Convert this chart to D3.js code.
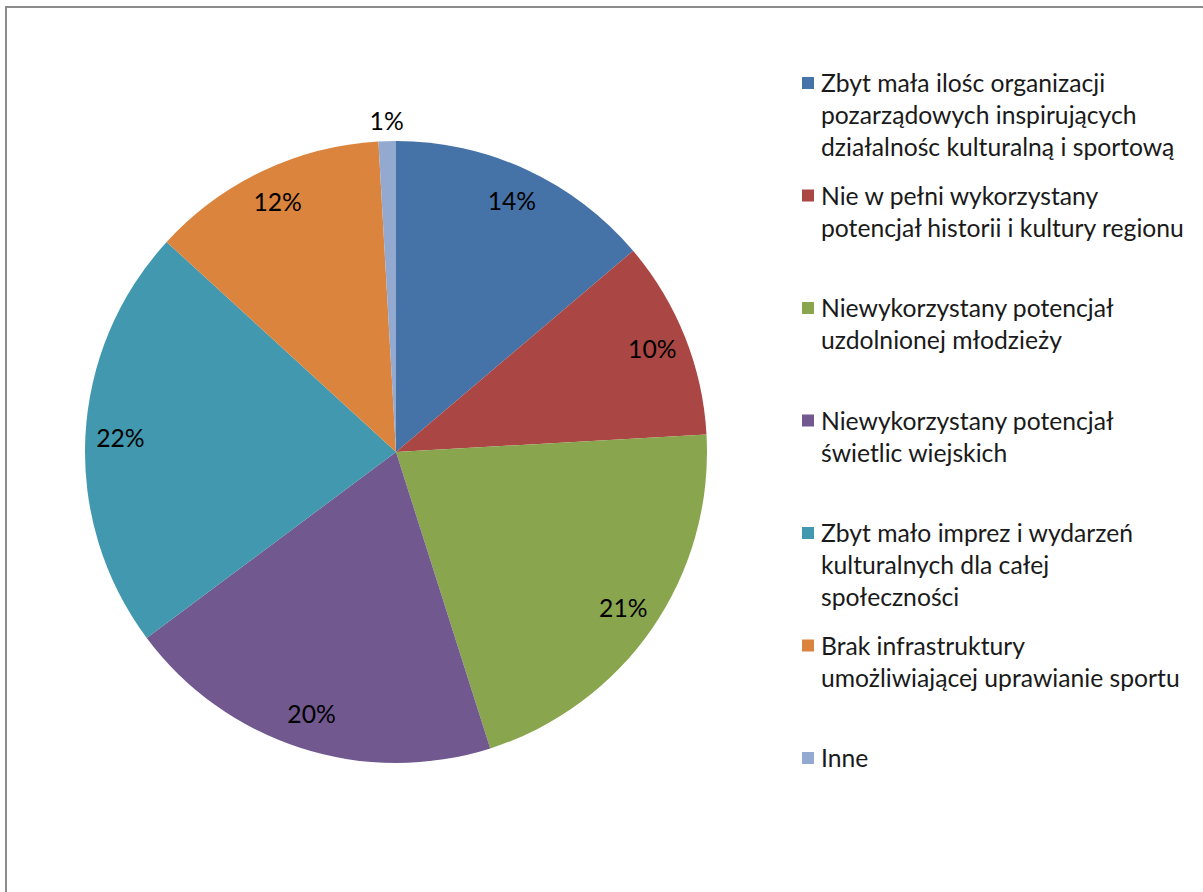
<!DOCTYPE html>
<html>
<head>
<meta charset="utf-8">
<script src="https://cdn.jsdelivr.net/npm/d3@7/dist/d3.min.js"></script>
<style>
  html, body { margin: 0; padding: 0; background: #fff; }
  svg { display: block; }
  text { font-family: Lato, "Open Sans", "Noto Sans", sans-serif; }
</style>
</head>
<body>
<svg id="chart" width="1203" height="892"></svg>
<script>
// ---- data ----
const categories = [
  "Zbyt mała ilośc organizacji\npozarządowych inspirujących\ndziałalnośc kulturalną i sportową",
  "Nie w pełni wykorzystany\npotencjał historii i kultury regionu",
  "Niewykorzystany potencjał\nuzdolnionej młodzieży",
  "Niewykorzystany potencjał\nświetlic wiejskich",
  "Zbyt mało imprez i wydarzeń\nkulturalnych dla całej\nspołeczności",
  "Brak infrastruktury\numożliwiającej uprawianie sportu",
  "Inne"
];
const values = [13.8, 10.3, 21.0, 19.7, 22.0, 12.3, 0.9];
const colors = ["#4572A7", "#AA4643", "#89A54E", "#71588F", "#4198AF", "#DB843D", "#93A9CF"];

// ---- layout ----
const W = 1203, H = 892;
const cx = 396, cy = 452, R = 311;
const labelR = 276, outsideR = 331;
const svg = d3.select("#chart");

// chart border (only top and left visible)
svg.append("rect")
  .attr("x", 6).attr("y", 7)
  .attr("width", W + 10).attr("height", H + 10)
  .attr("fill", "none").attr("stroke", "#8c8c8c").attr("stroke-width", 2);

// font fitting: match reference line width
const probe = svg.append("text").attr("font-size", 26)
  .text("potencjał historii i kultury regionu");
const measured = probe.node().getComputedTextLength();
probe.remove();
const fontSize = 26 * 363 / measured;

const total = d3.sum(values);
const pie = d3.pie().sort(null).value(d => d)(values);
const arc = d3.arc().innerRadius(0).outerRadius(R);
const g = svg.append("g").attr("transform", `translate(${cx},${cy})`);

g.selectAll("path.slice").data(pie).enter().append("path")
  .attr("class", "slice")
  .attr("d", arc)
  .attr("fill", (d, i) => colors[i]);

const fmt = d3.format(".0%");
g.selectAll("text.lbl").data(pie).enter().append("text")
  .attr("class", "lbl")
  .attr("transform", d => {
    const a = (d.startAngle + d.endAngle) / 2;
    const r = (d.value / total < 0.02) ? outsideR : labelR;
    return `translate(${r * Math.sin(a)},${-r * Math.cos(a)})`;
  })
  .attr("text-anchor", "middle")
  .attr("dy", "0.35em")
  .attr("font-size", fontSize)
  .attr("fill", "#000")
  .text(d => fmt(d.value / total));

// legend
const legendX = 821, legendY0 = 92, entryStep = 112.5, lineH = 32;
const leg = svg.append("g");
categories.forEach((c, i) => {
  const y = legendY0 + i * entryStep;
  leg.append("rect")
    .attr("x", 802).attr("y", y - 15)
    .attr("width", 12).attr("height", 12)
    .attr("fill", colors[i]);
  const t = leg.append("text")
    .attr("x", legendX).attr("y", y)
    .attr("font-size", fontSize)
    .attr("fill", "#1a1a1a");
  c.split("\n").forEach((line, j) => {
    t.append("tspan").attr("x", legendX).attr("y", y + j * lineH).text(line);
  });
});
</script>
</body>
</html>
